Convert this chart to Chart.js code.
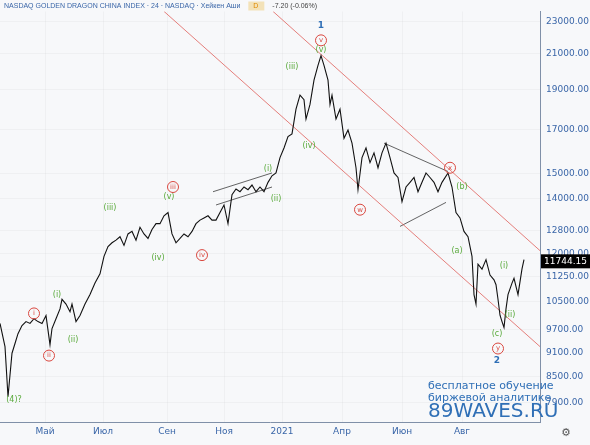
<!DOCTYPE html>
<html>
<head>
<meta charset="utf-8">
<script src="https://cdn.jsdelivr.net/npm/chart.js@4"></script>
<style>
  html, body { margin: 0; padding: 0; background: #f7f8fa; }
  #wrap { width: 590px; height: 445px; position: relative; }
</style>
</head>
<body>
<div id="wrap"><canvas id="grafica"></canvas></div>
<script>
// Datos: número de barra y cierre (Heikin Ashi)
const bars = [0,5,8,12,15,18,22,26,30,34,38,42,46,50,52,56,60,62,66,70,72,76,80,85,90,95,100,104,108,112,116,120,124,128,132,136,140,144,148,152,156,160,164,168,172,176,180,184,188,192,196,200,204,208,212,216,220,224,228,232,236,240,244,248,252,256,260,264,268,272,276,280,284,288,292,296,300,304,306,310,314,318,321,324,328,330,332,336,340,344,348,352,356,358,362,366,370,374,378,382,386,390,394,398,402,406,410,414,418,422,426,430,434,438,442,448,452,456,460,464,468,472,474,476,478,482,486,490,494,496,498,500,502,504,506,508,512,514,518,522,524];
const closes = [9870,9250,8040,9080,9330,9590,9810,9920,9870,10000,9920,9870,10090,9300,9730,10000,10280,10560,10420,10200,10420,9920,10090,10420,10700,11050,11340,11910,12240,12370,12460,12580,12280,12680,12770,12460,12920,12680,12520,12840,13050,13050,13340,13460,12680,12370,12520,12680,12580,12770,13050,13180,13260,13340,13180,13180,13460,13750,13050,14150,14380,14270,14460,14350,14540,14270,14460,14270,14650,14920,15040,15700,16130,16650,16780,17980,18700,18460,17490,18220,19500,20330,20890,20330,19500,18220,18700,17490,17980,16570,16960,16350,15260,14350,15700,16130,15480,15910,15260,15910,16350,15700,15040,14850,13880,14460,14650,14850,14270,14650,15040,14850,14650,14270,14650,15040,14460,13460,13260,12770,12580,11910,10700,10420,11650,11490,11800,11300,11150,11000,10560,10100,9920,9760,10280,10700,11050,11200,10700,11500,11800,11744];

// Canal (líneas rojas) y cuña
const canalInferior = [{x: 164, y: 23640}, {x: 540, y: 9250}];
const canalSuperior = [{x: 273, y: 23640}, {x: 540, y: 12100}];
const cuna1 = [[{x: 213, y: 14270}, {x: 272, y: 15040}], [{x: 216, y: 13750}, {x: 272, y: 14460}]];
const cuna2 = [[{x: 384, y: 16350}, {x: 448, y: 15100}], [{x: 400, y: 12950}, {x: 446, y: 13850}]];

// Ejes
const yTicks = [7900, 8500, 9100, 9700, 10500, 11250, 12000, 12800, 14000, 15000, 17000, 19000, 21000, 23000];
const mesesPos = [45, 103, 167, 224, 282, 342, 402, 462];
const meses = ["Май", "Июл", "Сен", "Ноя", "2021", "Апр", "Июн", "Авг"];

// Etiquetas de ondas: [barra, precio, texto, tipo]
const ondas = [
  [14, 7960, "(4)?", "g"], [57, 10700, "(i)", "g"], [73, 9420, "(ii)", "g"], [110, 13640, "(iii)", "g"],
  [158, 11850, "(iv)", "g"], [169, 14080, "(v)", "g"], [268, 15220, "(i)", "g"], [276, 13970, "(ii)", "g"],
  [292, 20230, "(iii)", "g"], [309, 16220, "(iv)", "g"], [321, 21200, "(v)", "g"], [462, 14460, "(b)", "g"],
  [457, 12100, "(a)", "g"], [504, 11580, "(i)", "g"], [510, 10100, "(ii)", "g"], [497, 9580, "(c)", "g"],
  [34, 10150, "i", "r"], [49, 9020, "ii", "r"], [173, 14460, "iii", "r"], [202, 11950, "iv", "r"],
  [321, 21800, "v", "r"], [360, 13570, "w", "r"], [450, 15260, "x", "r"], [498, 9200, "y", "r"],
  [321, 22700, "1", "b"], [497, 8900, "2", "b"]
];

const etiquetas = {
  id: 'etiquetas',
  afterDatasetsDraw(chart) {
    const ctx = chart.ctx, xs = chart.scales.x, ys = chart.scales.y;
    ctx.save();
    ctx.textAlign = 'center';
    ctx.textBaseline = 'middle';
    ondas.forEach(o => {
      const px = xs.getPixelForValue(o[0]), py = ys.getPixelForValue(o[1]);
      if (o[3] === 'g') {
        ctx.font = '8px "DejaVu Sans"';
        ctx.fillStyle = '#5aaa3c';
        ctx.fillText(o[2], px, py);
      } else if (o[3] === 'r') {
        ctx.strokeStyle = '#d9473f';
        ctx.lineWidth = 1;
        ctx.beginPath(); ctx.arc(px, py, 5.5, 0, Math.PI * 2); ctx.stroke();
        ctx.font = '7px "DejaVu Sans"';
        ctx.fillStyle = '#d9473f';
        ctx.fillText(o[2], px, py);
      } else {
        ctx.font = 'bold 9px "DejaVu Sans"';
        ctx.fillStyle = '#2f6fb6';
        ctx.fillText(o[2], px, py);
      }
    });
    // precio actual
    const py = ys.getPixelForValue(11744.15);
    ctx.fillStyle = '#000';
    ctx.fillRect(541, py - 7, 49, 14);
    ctx.fillStyle = '#fff';
    ctx.font = '9px "DejaVu Sans"';
    ctx.textAlign = 'left';
    ctx.fillText("11744.15", 544, py + 0.5);
    // encabezado
    ctx.font = '7px "Liberation Sans"';
    ctx.fillStyle = '#3a66a8';
    const titulo = "NASDAQ GOLDEN DRAGON CHINA INDEX · 24 · NASDAQ · Хейкен Аши";
    ctx.fillText(titulo, 4, 6);
    const fin = 4 + ctx.measureText(titulo).width;
    ctx.fillStyle = '#f3e2b8';
    ctx.fillRect(fin + 8, 1.5, 16, 9);
    ctx.fillStyle = '#e08a00';
    ctx.fillText("D", fin + 13, 6.5);
    ctx.fillStyle = '#444';
    ctx.fillText("-7.20 (-0.06%)", fin + 32, 6);
    // marca de agua
    ctx.fillStyle = '#2f6fb6';
    ctx.font = '11px "DejaVu Sans"';
    ctx.fillText("бесплатное обучение", 428, 386);
    ctx.fillText("биржевой аналитике", 428, 398);
    ctx.font = '20px "DejaVu Sans"';
    ctx.fillText("89WAVES.RU", 428, 412);
    ctx.fillStyle = '#555';
    ctx.font = '11px "DejaVu Sans"';
    ctx.fillText("⚙", 561, 433);
    ctx.restore();
  }
};

const linea = (data, color, w) => ({
  data: data, borderColor: color, borderWidth: w, pointRadius: 0, fill: false, tension: 0
});

new Chart(document.getElementById("grafica"), {
  type: 'line',
  data: {
    datasets: [
      linea(bars.map((b, i) => ({x: b, y: closes[i]})), '#111', 1.1),
      linea(canalInferior, '#e0605a', 0.8),
      linea(canalSuperior, '#e0605a', 0.8),
      linea(cuna1[0], '#222', 0.7), linea(cuna1[1], '#222', 0.7),
      linea(cuna2[0], '#222', 0.7), linea(cuna2[1], '#222', 0.7)
    ]
  },
  options: {
    responsive: true,
    maintainAspectRatio: false,
    animation: false,
    layout: { padding: 0 },
    plugins: { legend: { display: false }, tooltip: { enabled: false } },
    scales: {
      x: {
        type: 'linear', min: 0, max: 540,
        afterBuildTicks: s => { s.ticks = mesesPos.map(v => ({value: v})); },
        afterFit: s => { s.height = 23; },
        ticks: {
          callback: v => meses[mesesPos.indexOf(v)] || '',
          color: '#3a66a8', font: { size: 9, family: 'DejaVu Sans' }, maxRotation: 0, padding: 4
        },
        grid: { color: 'rgba(0,0,0,0.03)', drawTicks: false },
        border: { color: '#8090a8' }
      },
      y: {
        type: 'logarithmic', position: 'right', min: 7490, max: 23640,
        afterBuildTicks: s => { s.ticks = yTicks.map(v => ({value: v})); },
        afterFit: s => { s.width = 50; },
        ticks: {
          callback: v => v.toFixed(2),
          color: '#3a66a8', font: { size: 9, family: 'DejaVu Sans' }, padding: 6
        },
        grid: { color: 'rgba(0,0,0,0.03)', drawTicks: false },
        border: { color: '#8090a8' }
      }
    }
  },
  plugins: [etiquetas]
});
</script>
</body>
</html>
